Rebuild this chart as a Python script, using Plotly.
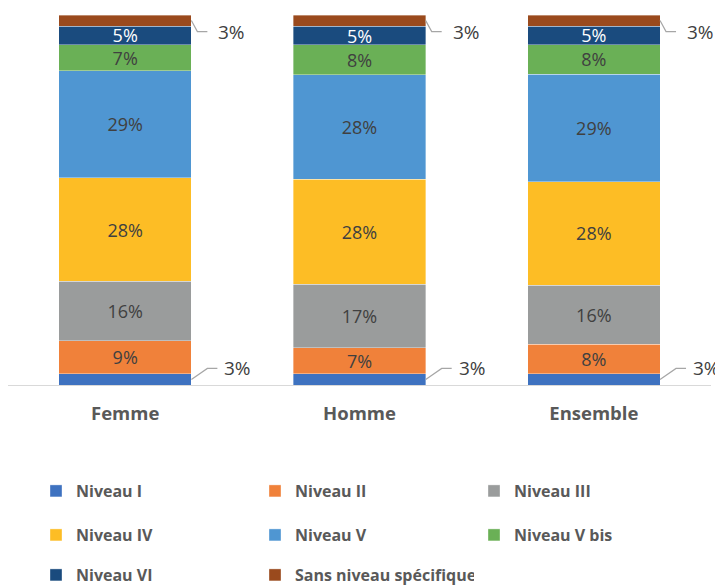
import plotly.graph_objects as go

categories = ["Femme", "Homme", "Ensemble"]
series_names = ["Niveau I", "Niveau II", "Niveau III", "Niveau IV", "Niveau V",
                "Niveau V bis", "Niveau VI", "Sans niveau spécifique"]
niveau_I = [3, 3, 3]
niveau_II = [9, 7, 8]
niveau_III = [16, 17, 16]
niveau_IV = [28, 28, 28]
niveau_V = [29, 28, 29]
niveau_V_bis = [7, 8, 8]
niveau_VI = [5, 5, 5]
sans_niveau = [3, 3, 3]

series_values = [niveau_I, niveau_II, niveau_III, niveau_IV, niveau_V,
                 niveau_V_bis, niveau_VI, sans_niveau]
colors = ["#3E72C0", "#F0813A", "#9A9C9C", "#FDBD25", "#4F96D2",
          "#6AB056", "#1A4B7E", "#9A4A1D"]
text_colors = ["#404040"] * 6 + ["#FFFFFF", "#404040"]
outside_series = {0, 7}
legend_ids = ["legend", "legend", "legend", "legend2", "legend2", "legend2",
              "legend3", "legend3"]

BARGAP = 0.435
half = (1 - BARGAP) / 2
totals = [sum(s[i] for s in series_values) for i in range(len(categories))]

fig = go.Figure()
for k, (name, vals) in enumerate(zip(series_names, series_values)):
    txt = ["" if k in outside_series else f"{v}%" for v in vals]
    fig.add_trace(go.Bar(
        x=categories, y=vals, name=name,
        marker=dict(color=colors[k], line=dict(color="rgba(255,255,255,0.6)", width=0.6)),
        text=txt, textposition="inside", insidetextanchor="middle",
        textangle=0, constraintext="none",
        textfont=dict(family="Open Sans", size=18, color=text_colors[k]),
        legend=legend_ids[k], hoverinfo="skip",
    ))

# outside labels with leader lines (Niveau I at bottom, Sans niveau at top)
shapes = []
annotations = []
for i, cat in enumerate(categories):
    for k in outside_series:
        below = sum(series_values[j][i] for j in range(k))
        v = series_values[k][i]
        center = (below + v / 2) / totals[i] * 100
        if k == 0:
            path = "M0,0 L16,11 L26,11"
            xs, ys = 31, 11
        else:
            path = "M0,0 L6,-11 L16,-11"
            xs, ys = 25, -11
        shapes.append(dict(
            type="path", xref="x", yref="y", xsizemode="pixel", ysizemode="pixel",
            xanchor=i + half, yanchor=center, path=path,
            line=dict(color="#A6A6A6", width=1.2),
        ))
        annotations.append(dict(
            x=i + half, y=center, xref="x", yref="y", text=f"{v}%",
            showarrow=False, xanchor="left", yanchor="middle",
            xshift=xs, yshift=ys,
            font=dict(family="Open Sans", size=19, color="#404040"),
        ))

# the page adds an 8px body margin, so the figure is drawn 8px smaller
OFF = 8
W, H = 723 - OFF, 586 - OFF
legend_font = dict(family="Open Sans", size=16, color="#595959", weight="bold")
common_leg = dict(orientation="h", xanchor="left", yanchor="middle",
                  xref="container", yref="container", x=(36 - OFF) / W,
                  entrywidth=174, entrywidthmode="pixels", font=legend_font,
                  bgcolor="rgba(0,0,0,0)", traceorder="normal")
plot_top, plot_h, plot_w = 15 - OFF, 370, 703.5
fig.update_layout(
    barmode="stack", barnorm="percent", bargap=BARGAP,
    width=W, height=H,
    margin=dict(l=0, r=W - plot_w, t=plot_top, b=H - plot_top - plot_h, autoexpand=False),
    paper_bgcolor="white", plot_bgcolor="white",
    showlegend=True,
    legend=dict(common_leg, y=1 - (491 - OFF) / H),
    legend2=dict(common_leg, y=1 - (535 - OFF) / H),
    legend3=dict(common_leg, y=1 - (575 - OFF) / H),
    xaxis=dict(range=[-0.5, len(categories) - 0.5], autorange=False,
               showline=True, linecolor="#D9D9D9", linewidth=1.2, showgrid=False,
               ticks="outside", ticklen=12, tickcolor="rgba(0,0,0,0)",
               tickfont=dict(family="Open Sans", size=18.5, color="#595959", weight="bold")),
    yaxis=dict(range=[0, 100], autorange=False, visible=False),
    shapes=shapes, annotations=annotations,
)
fig.write_html("out.html")
